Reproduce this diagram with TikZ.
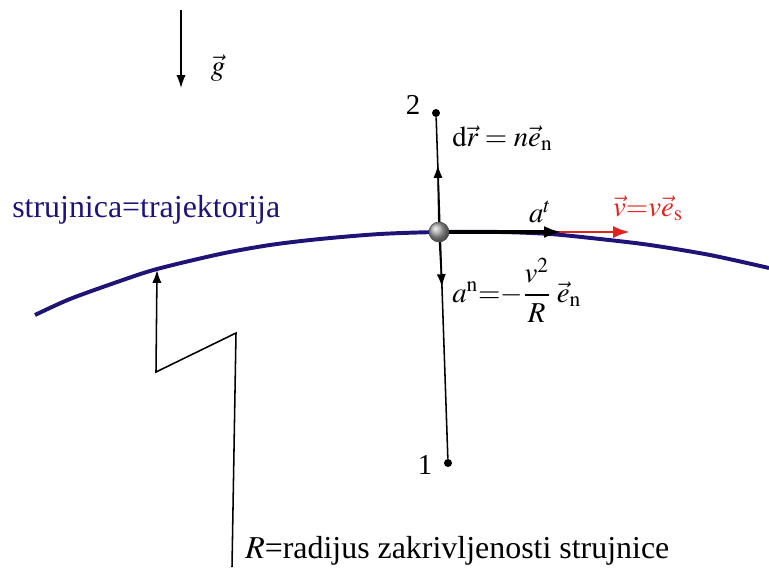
\documentclass[tikz,border=0pt]{standalone}
\usepackage{amsmath}
\usepackage{mathptmx}
\usepackage[no-math]{fontspec}
\setmainfont{Liberation Serif}
\usetikzlibrary{arrows.meta,positioning}
\definecolor{navy}{RGB}{30,20,120}
\definecolor{vred}{RGB}{225,35,30}

\begin{document}
\begin{tikzpicture}[x=0.025cm,y=-0.025cm,
   arr/.style={-{Latex[length=3.2mm,width=2.3mm]},line width=1.1pt},
   pt/.style={circle,fill,inner sep=0pt,minimum size=2mm},
   lab/.style={font=\fontsize{20.5}{24}\selectfont,inner sep=0pt},
   txt/.style={font=\fontsize{22.7}{27}\selectfont,inner sep=0pt}]
  \useasboundingbox (0,0) rectangle (769,568);
  % strujnica
  \draw[navy,line width=2.8pt] plot[smooth,tension=0.5] coordinates {(35,315) (70,299) (120,281) (157,269) (220,254) (270,245) (320,239) (380,234) (439,232) (500,232) (550,234) (600,239) (650,245) (710,255) (769,268)};
  \node[txt,navy,anchor=west] (str) at (12,210) {strujnica=trajektorija};
  % gravitacija
  \coordinate (g0) at (181,10);
  \coordinate (g1) at (181,88);
  \draw[arr] (g0) -- (g1);
  \node[lab] (g) at (218,68) {$\vec g$};
  % tocke 1 i 2
  \node[pt] (P2) at (436,113) {};
  \node[pt] (P1) at (448,463) {};
  \node[lab] (n2) at (413,105) {2};
  \node[lab] (n1) at (425,465) {1};
  \draw[line width=1.1pt] (P1) -- (P2);
  % vektori u cestici
  \coordinate (dr) at (437.8,165);
  \coordinate (an) at (442,287);
  \coordinate (at) at (562,232);
  \coordinate (vs) at (630,232);
  \coordinate (c) at (439,232);
  \draw[arr] (c) -- (dr);
  \draw[arr] (c) -- (an);
  \draw[-{Latex[length=4.2mm,width=3mm]},vred,line width=2.1pt] (c) -- (vs);
  \draw[-{Latex[length=4.5mm,width=3mm]},line width=2.8pt] (c) -- (at);
  \node[circle,draw=black!70,thin,minimum size=5mm,inner sep=0pt,shading=ball,ball color=gray!70] (ball) at (c) {};
  \node[lab,anchor=west] (drl) at (452,138) {$\mathrm{d}\vec r = n\vec e_{\mathrm n}$};
  \node[lab] (atl) at (540,212) {$a^t$};
  \node[lab,vred] (vsl) at (648,208) {$\vec v{=}v\vec e_{\mathrm s}$};
  \node[lab,anchor=west] (anl) at (452,290) {$a^{\mathrm n}{=}{-}\dfrac{v^2}{R}\;\vec e_{\mathrm n}$};
  % radijus
  \coordinate (rb) at (232,567);
  \coordinate (rk1) at (236,333);
  \coordinate (rk2) at (156,372);
  \coordinate (rt) at (157,270);
  \draw[arr] (rb) -- (rk1) -- (rk2) -- (rt);
  \node[txt,anchor=base west] (rl) at (245,558) {$R$=radijus zakrivljenosti strujnice};
\end{tikzpicture}
\end{document}
